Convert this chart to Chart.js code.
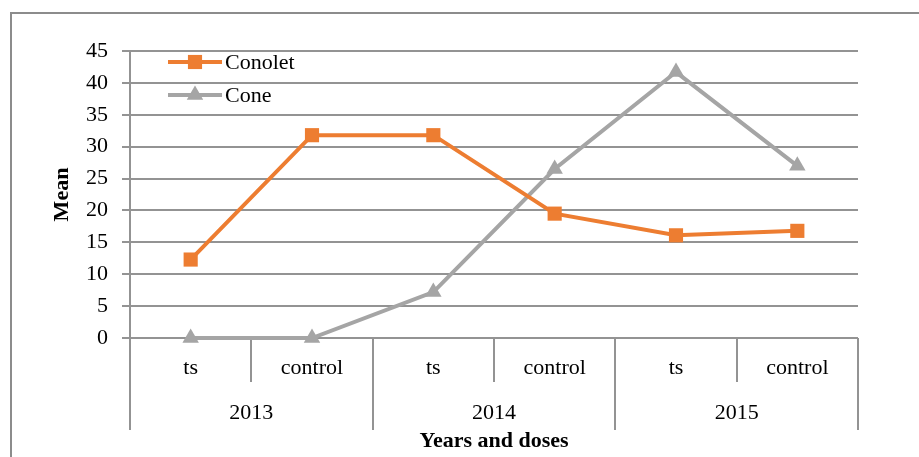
<!DOCTYPE html>
<html>
<head>
<meta charset="utf-8">
<script src="https://cdn.jsdelivr.net/npm/chart.js@4"></script>
<style>
  html, body { margin: 0; padding: 0; background: #fff; overflow: hidden; }
  #frame { position: absolute; left: 10px; top: 12px; width: 2000px; height: 2000px; border: 2px solid #8c8c8c; }
  #wrap { position: absolute; left: 0; top: 0; width: 919px; height: 457px; }
</style>
</head>
<body>
<div id="frame"></div>
<div id="wrap"><canvas id="lineChart"></canvas></div>
<script>
const doses = ["ts", "control", "ts", "control", "ts", "control"];
const years = ["2013", "2014", "2015"];
const conolet = [12.3, 31.8, 31.8, 19.5, 16.1, 16.8];
const cone = [0, 0, 7.2, 26.5, 41.7, 27.0];

const FONT = "'Liberation Serif', 'Times New Roman', serif";
const GRID = "#939393";

// legend drawn inside the plot, top-left, stacked
const innerLegend = {
  id: "innerLegend",
  afterDraw(chart) {
    const { ctx, chartArea } = chart;
    chart.data.datasets.forEach((ds, i) => {
      const y = chartArea.top + 11 + i * 33;
      const x0 = chartArea.left + 38;
      ctx.save();
      ctx.strokeStyle = ds.borderColor;
      ctx.lineWidth = 4;
      ctx.beginPath();
      ctx.moveTo(x0, y);
      ctx.lineTo(x0 + 54, y);
      ctx.stroke();
      ctx.fillStyle = ds.borderColor;
      Chart.helpers.drawPoint(ctx, { pointStyle: ds.pointStyle, radius: ds.pointRadius, rotation: 0, borderWidth: 0 }, x0 + 27, y);
      ctx.fillStyle = "#000";
      ctx.font = "22px " + FONT;
      ctx.textBaseline = "middle";
      ctx.fillText(ds.label, x0 + 57, y + 1);
      ctx.restore();
    });
  },
};

const ctx = document.getElementById("lineChart").getContext("2d");
const lineChart = new Chart(ctx, {
  type: "line",
  data: {
    labels: doses,
    datasets: [
      {
        label: "Conolet",
        data: conolet,
        borderColor: "#ED7D31",
        backgroundColor: "#ED7D31",
        borderWidth: 4,
        pointStyle: "rect",
        pointRadius: 10,
        pointBorderWidth: 0,
        clip: false,
      },
      {
        label: "Cone",
        data: cone,
        borderColor: "#A5A5A5",
        backgroundColor: "#A5A5A5",
        borderWidth: 4,
        pointStyle: "triangle",
        pointRadius: 9.5,
        pointBorderWidth: 0,
        clip: false,
      },
    ],
  },
  options: {
    responsive: true,
    maintainAspectRatio: false,
    animation: false,
    layout: { padding: { top: 51, right: 61, left: 0, bottom: 0 } },
    plugins: { legend: { display: false }, tooltip: { enabled: false } },
    scales: {
      y: {
        min: 0,
        max: 45,
        ticks: { stepSize: 5, color: "#000", font: { family: FONT, size: 22 }, padding: 14 },
        grid: { color: GRID, lineWidth: 2, tickLength: 8 },
        border: { color: GRID, width: 2 },
        title: { display: true, text: "Mean", color: "#000", font: { family: FONT, size: 22, weight: "bold" }, padding: { top: 49, bottom: 0 } },
        afterFit(scale) { scale.width = 130; },
      },
      x: {
        type: "category",
        offset: true,
        ticks: { color: "#000", font: { family: FONT, size: 22 }, padding: -27, maxRotation: 0, autoSkip: false },
        grid: { offset: true, drawOnChartArea: false, color: GRID, lineWidth: 2, tickLength: 44 },
        border: { display: false },
        afterFit(scale) { scale.height = 44; },
      },
      xYear: {
        type: "category",
        position: "bottom",
        labels: years,
        offset: true,
        ticks: { color: "#000", font: { family: FONT, size: 22 }, padding: -30, maxRotation: 0, autoSkip: false },
        grid: { offset: true, drawOnChartArea: false, color: GRID, lineWidth: 2, tickLength: 48 },
        border: { display: false },
        title: { display: true, text: "Years and doses", color: "#000", font: { family: FONT, size: 22, weight: "bold" }, padding: { top: 0, bottom: 2 } },
        afterFit(scale) { scale.height = 75; },
      },
    },
  },
  plugins: [innerLegend],
});
</script>
</body>
</html>
